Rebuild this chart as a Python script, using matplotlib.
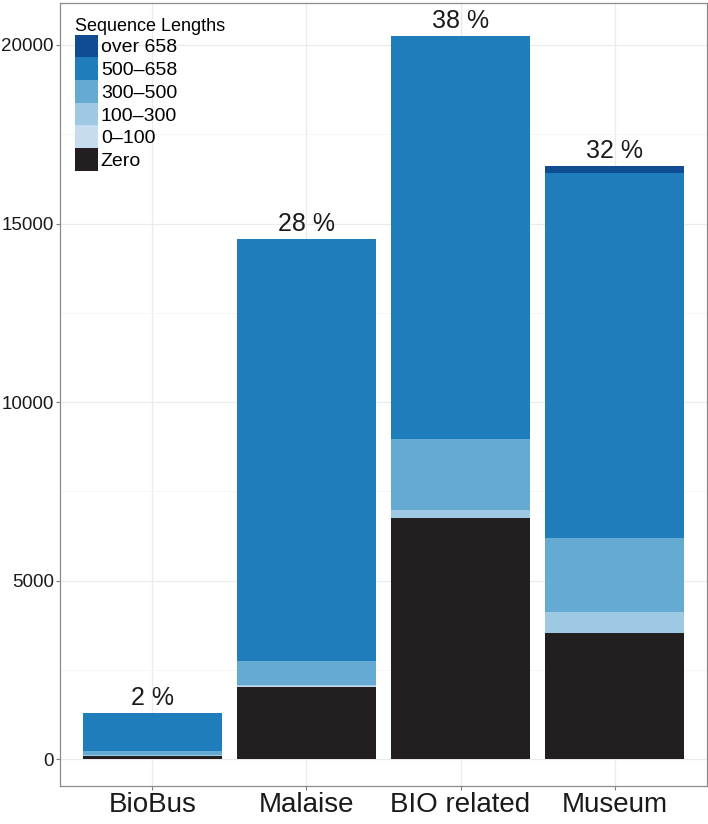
import matplotlib
matplotlib.use("Agg")
import matplotlib.pyplot as plt
from matplotlib.patches import Patch
import numpy as np

plt.rcParams['font.family'] = ['Liberation Sans', 'DejaVu Sans']

categories = ["BioBus", "Malaise", "BIO related", "Museum"]
series_names = ["Zero", "0\u2013100", "100\u2013300", "300\u2013500", "500\u2013658", "over 658"]
zero      = [90, 2025, 6750, 3520]
r0_100    = [0, 10, 10, 20]
r100_300  = [20, 40, 215, 590]
r300_500  = [120, 675, 1990, 2055]
r500_658  = [1050, 11810, 11280, 10240]
over_658  = [0, 0, 0, 185]
pct_labels = ["2 %", "28 %", "38 %", "32 %"]

colors = ["#231f20", "#c6dcef", "#9dc9e2", "#64aad3", "#1f7dbb", "#0f4c92"]
series = [zero, r0_100, r100_300, r300_500, r500_658, over_658]

fig = plt.figure(figsize=(7.08, 8.24), dpi=100)
# panel: x 60..707 px, y 3..786 px (from top)
ax = fig.add_axes([60/708, 38/824, 647/708, 783/824])

x = np.arange(1, len(categories) + 1)
bottom = np.zeros(len(categories))
for vals, col in zip(series, colors):
    ax.bar(x, vals, width=0.9, bottom=bottom, color=col, edgecolor='none', zorder=2)
    bottom += np.array(vals)

for xi, tot, lab in zip(x, bottom, pct_labels):
    ax.text(xi, tot + 230, lab, ha='center', va='baseline', fontsize=18, color='#1a1a1a', zorder=3)

ax.set_xlim(0.4, 4.6)
ax.set_ylim(-755, 21176)
ax.set_xticks(x)
ax.set_xticklabels(categories, fontsize=20, color='#1a1a1a')
ax.set_yticks([0, 5000, 10000, 15000, 20000])
ax.set_yticklabels(["0", "5000", "10000", "15000", "20000"], fontsize=13.5, color='#1a1a1a')
ax.set_yticks([2500, 7500, 12500, 17500], minor=True)
ax.tick_params(axis='both', which='major', length=3, width=0.8, color='#7f7f7f', pad=1.5)
ax.tick_params(axis='y', which='minor', length=0)
ax.grid(True, which='major', color='#ebebeb', linewidth=0.9, zorder=0)
ax.grid(True, which='minor', axis='y', color='#f5f5f5', linewidth=0.6, zorder=0)
ax.set_axisbelow(True)
for s in ax.spines.values():
    s.set_color('#8c8c8c')
    s.set_linewidth(0.9)

handles = [Patch(facecolor=c, edgecolor='none') for c in colors[::-1]]
leg = ax.legend(handles, series_names[::-1], title="Sequence Lengths", loc='upper left',
                bbox_to_anchor=(0.0, 1.0), frameon=False, fontsize=14, title_fontsize=13,
                handlelength=1.2, handleheight=1.42, labelspacing=0.0, handletextpad=0.15,
                borderaxespad=0.3, borderpad=0.45)
leg._legend_box.align = "left"

fig.savefig("out.png", dpi=100)
